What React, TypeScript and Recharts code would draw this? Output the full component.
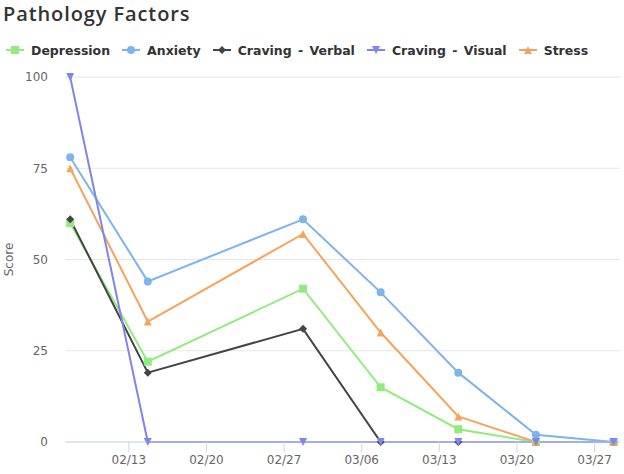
import React from 'react';
import {
    LineChart,
    Line,
    XAxis,
    YAxis,
    CartesianGrid,
    Legend
} from 'recharts';

// one entry per assessment
const dates = [
    '2021-02-07T17:00:00Z',
    '2021-02-14T17:00:00Z',
    '2021-02-28T17:00:00Z',
    '2021-03-07T17:00:00Z',
    '2021-03-14T17:00:00Z',
    '2021-03-21T17:00:00Z',
    '2021-03-28T17:00:00Z',
];
const depression = [60, 22, 42, 15, 3.5, 0, 0];
const anxiety = [78, 44, 61, 41, 19, 2, 0];
const cravingVerbal = [61, 19, 31, 0, 0, null, null];
const cravingVisual = [100, 0, 0, 0, 0, 0, 0];
const stress = [75, 33, 57, 30, 7, 0, 0];

const tickDates = ['2021-02-13', '2021-02-20', '2021-02-27', '2021-03-06', '2021-03-13', '2021-03-20', '2021-03-27'];
const yTicks = [0, 25, 50, 75, 100];
const xRange = ['2021-02-07T08:00:00Z', '2021-03-29T07:00:00Z'];

const series = [
    { key: 'depression', name: 'Depression', color: '#90ed7d', shape: 'square', values: depression },
    { key: 'anxiety', name: 'Anxiety', color: '#7cb5ec', shape: 'circle', values: anxiety },
    { key: 'cravingVerbal', name: 'Craving - Verbal', color: '#434348', shape: 'diamond', values: cravingVerbal },
    { key: 'cravingVisual', name: 'Craving - Visual', color: '#8085e9', shape: 'triangle-down', values: cravingVisual },
    { key: 'stress', name: 'Stress', color: '#f7a35c', shape: 'triangle', values: stress },
];

// purple drawn last so it sits on top, like the original
const drawOrder = ['depression', 'anxiety', 'cravingVerbal', 'stress', 'cravingVisual'];

const data = dates.map((d, i) => {
    const row: Record<string, number | null> = { t: Date.parse(d) };
    series.forEach((s) => { row[s.key] = s.values[i]; });
    return row;
});

const ticks = tickDates.map((d) => Date.parse(d + 'T00:00:00Z'));
const domain = xRange.map((d) => Date.parse(d));

const fmtDate = (v: number) => {
    const d = new Date(v);
    const mm = String(d.getUTCMonth() + 1).padStart(2, '0');
    const dd = String(d.getUTCDate()).padStart(2, '0');
    return `${mm}/${dd}`;
};

const FONT = '"DejaVu Sans", sans-serif';

function Marker({ shape, color, cx, cy }: { shape: string; color: string; cx: number; cy: number }) {
    const r = 4;
    switch (shape) {
        case 'circle':
            return <circle cx={cx} cy={cy} r={r} fill={color} />;
        case 'square':
            return <rect x={cx - r} y={cy - r} width={r * 2} height={r * 2} fill={color} />;
        case 'diamond':
            return <path d={`M${cx} ${cy - r}L${cx + r} ${cy}L${cx} ${cy + r}L${cx - r} ${cy}Z`} fill={color} />;
        case 'triangle':
            return <path d={`M${cx} ${cy - r}L${cx + r} ${cy + r}L${cx - r} ${cy + r}Z`} fill={color} />;
        default:
            return <path d={`M${cx - r} ${cy - r}L${cx + r} ${cy - r}L${cx} ${cy + r}Z`} fill={color} />;
    }
}

function LegendContent() {
    return (
        <div style={{ display: 'flex', alignItems: 'center', height: 18, paddingLeft: 6, fontFamily: FONT, fontSize: 12.5, fontWeight: 'bold', wordSpacing: 2, color: '#333333' }}>
            {series.map((s) => (
                <div key={s.key} style={{ display: 'flex', alignItems: 'center', marginRight: 12 }}>
                    <svg width={18} height={12} style={{ marginRight: 7 }}>
                        <line x1={0} y1={6} x2={18} y2={6} stroke={s.color} strokeWidth={2} />
                        <Marker shape={s.shape} color={s.color} cx={9} cy={6} />
                    </svg>
                    <span>{s.name}</span>
                </div>
            ))}
        </div>
    );
}

const ScoreLabel = (props: any) => {
    const { viewBox } = props;
    const cx = viewBox.x + 9;
    const cy = viewBox.y + viewBox.height / 2;
    return (
        <text x={cx} y={cy} transform={`rotate(-90 ${cx} ${cy})`} textAnchor="middle" dominantBaseline="central"
            fill="#666666" fontSize={12} fontFamily={FONT}>
            Score
        </text>
    );
};

export default function App() {
    return (
        <div style={{ position: 'relative', width: 624, height: 474, background: '#fff' }}>
            <style>{'body{margin:0}'}</style>
            <div style={{ position: 'absolute', left: 3, top: 3.5, fontFamily: '"Open Sans", sans-serif', fontWeight: 600, fontSize: 20, lineHeight: '20px', letterSpacing: 0.9, color: '#333333', whiteSpace: 'nowrap' }}>
                Pathology Factors
            </div>
            <LineChart width={624} height={474} data={data} margin={{ top: 77, right: 4, bottom: 7, left: 0 }}>
                <CartesianGrid vertical={false} stroke="#e6e6e6" />
                <XAxis
                    dataKey="t"
                    type="number"
                    domain={domain}
                    ticks={ticks}
                    tickFormatter={fmtDate}
                    height={25}
                    tickSize={10}
                    tickMargin={3}
                    stroke="#ccd6eb"
                    tick={{ fill: '#666666', fontSize: 12, fontFamily: FONT }}
                />
                <YAxis
                    domain={[0, 100]}
                    ticks={yTicks}
                    width={66}
                    axisLine={false}
                    tickLine={false}
                    tickSize={0}
                    tickMargin={18}
                    tick={{ fill: '#666666', fontSize: 12, fontFamily: FONT }}
                    label={{ content: ScoreLabel }}
                />
                <Legend
                    layout="horizontal"
                    verticalAlign="middle"
                    align="center"
                    wrapperStyle={{ top: 41, left: 0, width: 624, height: 18 }}
                    content={<LegendContent />}
                />
                {drawOrder.map((k) => {
                    const s = series.find((x) => x.key === k)!;
                    return (
                        <Line
                            key={s.key}
                            dataKey={s.key}
                            name={s.name}
                            stroke={s.color}
                            strokeWidth={2}
                            isAnimationActive={false}
                            activeDot={false}
                            dot={(p: any) => (p.cy == null || p.value == null
                                ? <g key={`${s.key}-${p.index}`} />
                                : <Marker key={`${s.key}-${p.index}`} shape={s.shape} color={s.color} cx={p.cx} cy={p.cy} />)}
                        />
                    );
                })}
            </LineChart>
        </div>
    );
}
